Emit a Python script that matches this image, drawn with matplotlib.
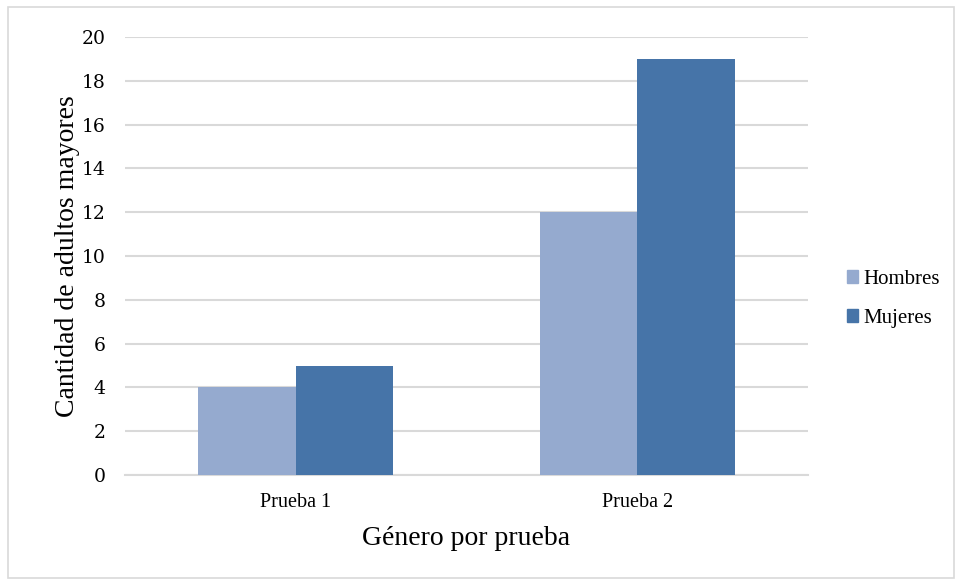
import matplotlib
matplotlib.use("Agg")
import matplotlib.pyplot as plt
from matplotlib.patches import Rectangle, Patch
import numpy as np

categories = ["Prueba 1", "Prueba 2"]
hombres = [4, 12]
mujeres = [5, 19]
series_names = ["Hombres", "Mujeres"]
y_ticks = [0, 2, 4, 6, 8, 10, 12, 14, 16, 18, 20]

color_h = "#95AACF"
color_m = "#4674A8"
grid_color = "#D9D9D9"

plt.rcParams["font.family"] = ["Liberation Serif", "DejaVu Serif"]

fig = plt.figure(figsize=(9.59, 5.81), dpi=100)
ax = fig.add_axes([125 / 959, 1 - 475 / 581, (808 - 125) / 959, (475 - 37) / 581])

# outer frame of the chart
fig.patches.append(Rectangle((8 / 959, 3 / 581), 946 / 959, 571 / 581,
                             transform=fig.transFigure, fill=False,
                             edgecolor="#D9D9D9", linewidth=1.2))

x = np.arange(len(categories))
w = 0.2855
ax.bar(x - w / 2, hombres, width=w, color=color_h, zorder=3)
ax.bar(x + w / 2, mujeres, width=w, color=color_m, zorder=3)

ax.set_xlim(-0.5, 1.5)
ax.set_ylim(0, 20)
ax.set_yticks(y_ticks)
ax.set_xticks(x)
ax.set_xticklabels(categories, fontsize=14.5)
ax.tick_params(axis="y", length=0, pad=14)
ax.tick_params(axis="x", length=0, pad=13)
for t in ax.get_yticklabels():
    t.set_fontfamily(["DejaVu Serif"])
    t.set_fontsize(13.5)

ax.grid(axis="y", color=grid_color, linewidth=1.5, zorder=0)
for s in ["top", "right", "left"]:
    ax.spines[s].set_visible(False)
ax.spines["bottom"].set_color(grid_color)
ax.spines["bottom"].set_linewidth(1.5)

ax.set_ylabel("Cantidad de adultos mayores", fontsize=20, labelpad=1)
ax.set_xlabel("Género por prueba", fontsize=20, labelpad=10)

handles = [Patch(color=color_h), Patch(color=color_m)]
fig.legend(handles, series_names, loc="center left",
           bbox_to_anchor=(828 / 959, 1 - 299 / 581), frameon=False,
           fontsize=15, handlelength=0.55, handleheight=0.55,
           handletextpad=0.25, labelspacing=0.95)

fig.savefig("out.png", dpi=100)
